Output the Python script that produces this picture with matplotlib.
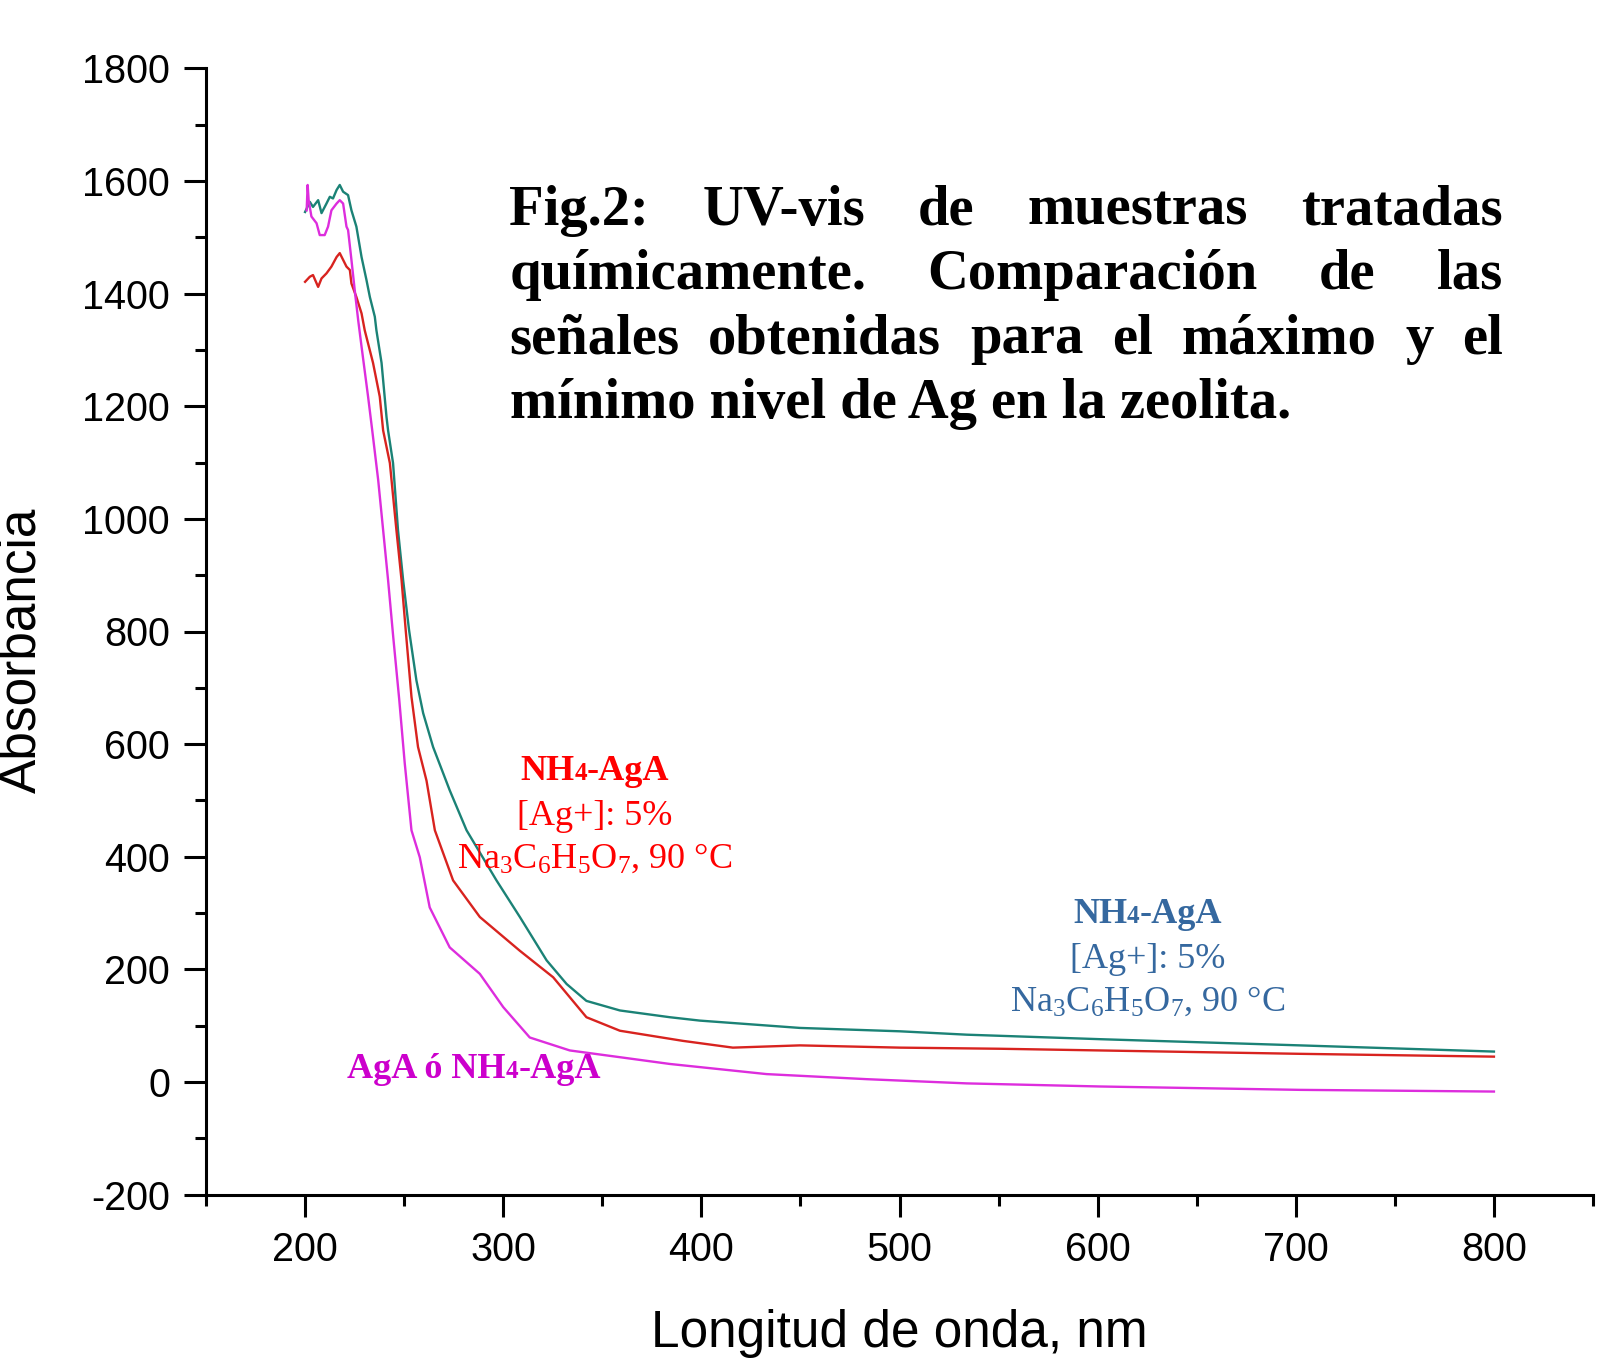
import matplotlib
matplotlib.use("Agg")
import matplotlib.pyplot as plt
from matplotlib.ticker import MultipleLocator
from matplotlib.transforms import IdentityTransform

# --- data (wavelength nm, absorbance) ---
teal_x = [200, 202.4, 204.0, 206.6, 208.3, 210.8, 212.5, 214.1, 215.9, 217.5, 219.2, 221.7,
          223.4, 225.9, 228.5, 231.0, 232.7, 235.2, 236.0, 238.6, 241.1, 241.9, 244.4, 246.9,
          249.5, 252.5, 256.2, 259.6, 264.6, 273.0, 281.5, 296.6, 308.4, 321.9, 332.0, 342.0,
          358.9, 384.1, 399.2, 449.7, 500.2, 533.9, 601.2, 702.1, 800]
teal_y = [1545, 1563, 1554, 1566, 1543, 1560, 1572, 1569, 1584, 1593, 1581, 1575,
          1548, 1519, 1465, 1424, 1394, 1359, 1335, 1277, 1181, 1157, 1099, 980,
          891, 802, 713, 655, 595, 518, 447, 358, 293, 216, 174, 144,
          127, 115, 109, 96, 90, 84, 76, 65, 54]

red_x = [200, 202.4, 204.0, 206.6, 208.3, 210.8, 213.3, 215.9, 217.5, 219.2, 220.9, 222.6,
         223.4, 225.9, 228.5, 230.1, 234.3, 237.7, 239.4, 242.8, 246.1, 248.7, 250.8, 253.7,
         257.0, 261.3, 265.5, 274.7, 288.2, 308.4, 325.2, 342.0, 358.9, 390.7, 415.9, 449.7,
         500.2, 550.7, 601.2, 702.1, 800]
red_y = [1421, 1430, 1433, 1412, 1427, 1436, 1448, 1465, 1472, 1460, 1448, 1442,
         1418, 1394, 1365, 1335, 1277, 1217, 1157, 1099, 980, 891, 802, 684,
         595, 535, 447, 358, 293, 233, 186, 115, 91, 73, 61, 65,
         61, 59, 56, 50, 45]

mag_x = [200.8, 201.3, 201.8, 203.2, 205.8, 207.4, 209.9, 211.6, 213.3, 215.9, 217.5, 219.2,
         220.9, 221.7, 223.4, 225.1, 226.8, 228.5, 231.8, 233.9, 236.9, 239.4, 241.9, 244.5,
         247.5, 250.3, 253.7, 257.9, 262.9, 273.0, 288.2, 300.0, 313.4, 333.6, 358.9, 384.1,
         432.9, 483.4, 533.9, 601.2, 702.1, 800]
mag_y = [1548, 1593, 1566, 1537, 1525, 1504, 1504, 1519, 1548, 1560, 1566, 1560,
         1519, 1513, 1460, 1405, 1353, 1306, 1217, 1157, 1069, 980, 891, 790,
         680, 566, 447, 399, 310, 239, 192, 133, 79, 56, 44, 32,
         14, 5, -2.5, -8, -14, -17]

title_lines = ["Fig.2: UV-vis de muestras tratadas",
               "químicamente. Comparación de las",
               "señales obtenidas para el máximo y el",
               "mínimo nivel de Ag en la zeolita."]

W, H = 1601, 1361
SERIF = "Liberation Serif"

plt.rcParams["font.family"] = ["Liberation Sans", "DejaVu Sans"]
plt.rcParams["axes.unicode_minus"] = False
plt.rcParams["mathtext.fontset"] = "custom"
plt.rcParams["mathtext.rm"] = SERIF
plt.rcParams["mathtext.bf"] = SERIF + ":bold"

fig = plt.figure(figsize=(W / 100, H / 100), dpi=100)
ax = fig.add_axes([206 / W, 1 - 1194.6 / H, (1593 - 206) / W, (1194.6 - 68.4) / H])

ax.plot(teal_x, teal_y, color="#1b8276", lw=1.7)
ax.plot(red_x, red_y, color="#d8231f", lw=1.7)
ax.plot(mag_x, mag_y, color="#dd2ddd", lw=1.7)

ax.set_xlim(150, 850)
ax.set_ylim(-200, 1800)
ax.xaxis.set_major_locator(MultipleLocator(100))
ax.xaxis.set_minor_locator(MultipleLocator(50))
ax.yaxis.set_major_locator(MultipleLocator(200))
ax.yaxis.set_minor_locator(MultipleLocator(100))
ax.set_xticks([200, 300, 400, 500, 600, 700, 800])
ax.set_yticks(range(-200, 1801, 200))
ax.tick_params(which="major", length=16, width=2.2, direction="out", labelsize=28.5, pad=10)
ax.tick_params(which="minor", length=8, width=2.2, direction="out")
for s in ["top", "right"]:
    ax.spines[s].set_visible(False)
for s in ["left", "bottom"]:
    ax.spines[s].set_linewidth(2.2)

ax.set_xlabel("Longitud de onda, nm", fontsize=37)
ax.set_ylabel("Absorbancia", fontsize=37)
ax.xaxis.set_label_coords(0.5, -0.102)
ax.yaxis.label.set_verticalalignment("center")
ax.yaxis.set_label_coords(-0.133, 0.483)

r = fig.canvas.get_renderer()


def px_text(x, y, s, **kw):
    return fig.text(x, H - y, s, transform=IdentityTransform(), va="baseline", **kw)


# title block, justified like the original
probe = px_text(0, 0, title_lines[-1], fontsize=40, fontweight="bold", family=SERIF)
tsize = 40 * 782 / probe.get_window_extent(r).width
probe.remove()
x0, x1 = 509.5, 1503
for i, line in enumerate(title_lines):
    y = 224.6 + 64.3 * i
    if i == len(title_lines) - 1:
        px_text(x0, y, line, fontsize=tsize, fontweight="bold", family=SERIF)
        continue
    words = line.split()
    objs = [px_text(0, y, w, fontsize=tsize, fontweight="bold", family=SERIF) for w in words]
    widths = [t.get_window_extent(r).width for t in objs]
    gap = (x1 - x0 - sum(widths)) / (len(words) - 1)
    x = x0
    for t, w in zip(objs, widths):
        t.set_x(x)
        x += w + gap


def runs_centered(xc, y, runs, color):
    objs = [px_text(0, y, s, fontsize=fs, fontweight="bold", family=SERIF, color=color)
            for s, fs in runs]
    widths = [t.get_window_extent(r).width for t in objs]
    x = xc - sum(widths) / 2
    for t, w in zip(objs, widths):
        t.set_x(x)
        x += w


def label_block(xc, y, color):
    runs_centered(xc, y, [("NH", 26), ("4", 18), ("-AgA", 26)], color)
    px_text(xc, y + 45, "[Ag+]: 5%", fontsize=26, family=SERIF, color=color, ha="center")
    px_text(xc, y + 88, r"$\mathrm{Na_3C_6H_5O_7}$, 90 °C", fontsize=26, family=SERIF,
            color=color, ha="center")


label_block(595, 780, "#ff0000")
label_block(1147.5, 923, "#35689f")
runs_centered(474, 1078, [("AgA ó NH", 26), ("4", 18), ("-AgA", 26)], "#cc00cc")

fig.savefig("out.png", dpi=100)
